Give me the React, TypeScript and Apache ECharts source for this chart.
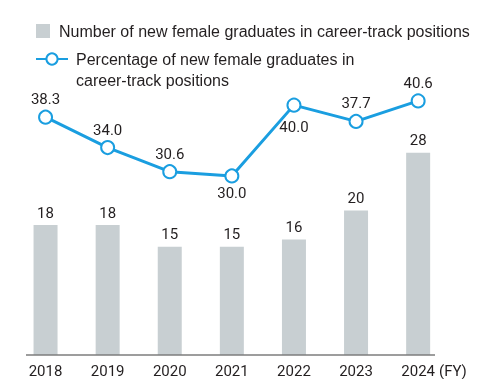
import React, { useEffect, useRef } from "react";
import * as echarts from "echarts";

const years = ["2018", "2019", "2020", "2021", "2022", "2023", "2024"];
const graduates = [18, 18, 15, 15, 16, 20, 28];
const percentages = [38.3, 34.0, 30.6, 30.0, 40.0, 37.7, 40.6];
const pctLabelPos = ["top", "top", "top", "bottom", "bottom", "top", "top"];
const pctLabelDist = [3, 3, 3, 2, 7, 3, 3];

const barName = "Number of new female graduates in career-track positions";
const lineName = "Percentage of new female graduates in career-track positions";

const TEXT = "#231f20";
const BLUE = "#1a9ee0";
const GREY = "#c8cfd2";

export default function App() {
  const ref = useRef<HTMLDivElement>(null);
  useEffect(() => {
    const chart = echarts.init(ref.current!, undefined, { renderer: "svg" });
    chart.setOption({
      animation: false,
      grid: { left: 14.5, right: 50.8, top: 66.2, bottom: 24 },
      legend: [
        {
          data: [{ name: barName, icon: "rect" }],
          left: 36,
          top: 23,
          padding: 0,
          itemWidth: 14,
          itemHeight: 14,
          selectedMode: false,
          textStyle: {
            fontFamily: "Liberation Sans",
            fontSize: 16,
            color: TEXT,
            padding: [0, 0, 0, 4],
          },
        },
        {
          data: [{ name: lineName }],
          left: 35,
          top: 27.5,
          padding: 0,
          itemWidth: 32,
          itemHeight: 14,
          selectedMode: false,
          formatter: () =>
            " \nPercentage of new female graduates in\ncareer-track positions",
          textStyle: {
            fontFamily: "Liberation Sans",
            fontSize: 16,
            lineHeight: 21,
            color: TEXT,
            padding: [0, 0, 0, 3],
          },
        },
      ],
      xAxis: {
        type: "category",
        data: years,
        axisLine: { show: false },
        axisTick: { show: false },
        axisLabel: {
          margin: 8,
          fontFamily: "Roboto",
          fontSize: 15,
          color: TEXT,
        },
      },
      yAxis: [
        { type: "value", min: 0, max: 40, show: false },
        { type: "value", min: 4.7, max: 45.5, show: false },
      ],
      graphic: [
        {
          type: "line",
          shape: { x1: 26, y1: 355, x2: 435, y2: 355 },
          style: { stroke: "#7d7d7d", lineWidth: 1.3 },
          z: 100,
        },
        {
          type: "text",
          left: 439,
          top: 363,
          style: {
            text: "(FY)",
            font: "15px Roboto",
            fill: TEXT,
          },
        },
      ],
      series: [
        {
          name: barName,
          type: "bar",
          data: graduates,
          barWidth: 24,
          itemStyle: { color: GREY },
          label: {
            show: true,
            position: "top",
            distance: 5,
            fontFamily: "Roboto",
            fontSize: 15,
            color: TEXT,
          },
        },
        {
          name: lineName,
          type: "line",
          yAxisIndex: 1,
          data: percentages.map((v, i) => ({
            value: v,
            label: { position: pctLabelPos[i], distance: pctLabelDist[i] },
          })),
          symbol: "circle",
          symbolSize: 13,
          lineStyle: { color: BLUE, width: 3 },
          itemStyle: { color: "#ffffff", borderColor: BLUE, borderWidth: 2 },
          label: {
            show: true,
            fontFamily: "Roboto",
            fontSize: 15,
            color: TEXT,
            formatter: (p: any) => Number(p.value).toFixed(1),
          },
          z: 5,
        },
      ],
    });
    return () => chart.dispose();
  }, []);
  return (
    <div
      ref={ref}
      style={{ position: "fixed", left: 0, top: 0, width: 500, height: 379 }}
    />
  );
}
